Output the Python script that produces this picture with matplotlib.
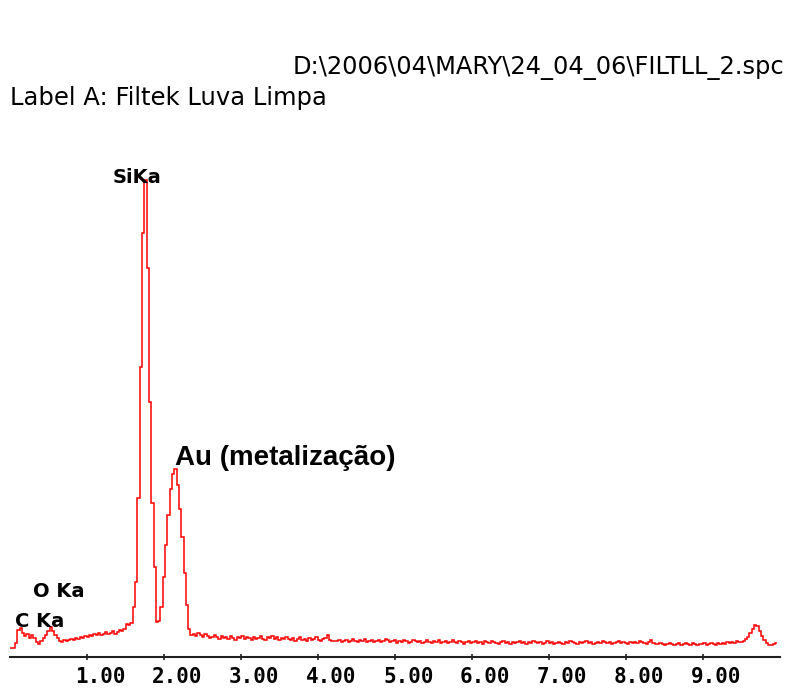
import numpy as np
import matplotlib
matplotlib.use('Agg')
import matplotlib.pyplot as plt
from matplotlib.transforms import ScaledTranslation

W, H = 786, 689
RED = '#ff0000'

# EDS spectrum, counts per 0.03 keV channel starting at 0 keV
CHANNEL_KEV = 0.03
counts = [
    # 0.00 - 0.60 keV (C Ka, O Ka)
    9, 9, 14, 27, 29, 24, 21, 23, 19, 22, 19, 15, 13, 16, 19, 22, 26, 30, 26, 22,
    # 0.60 - 1.20
    19, 16, 15, 17, 16, 17, 18, 17, 19, 18, 20, 19, 21, 20, 22, 21, 23, 22, 24, 22,
    # 1.20 - 1.80 (Si Ka)
    23, 25, 23, 24, 26, 23, 25, 27, 26, 28, 33, 32, 34, 50, 75, 159, 290, 424, 477, 389,
    # 1.80 - 2.37 (Au M)
    255, 154, 90, 35, 36, 50, 80, 112, 142, 168, 183, 188, 172, 148, 120, 84, 52, 28, 22,
    # 2.37 - 2.97
    23, 21, 24, 22, 20, 23, 21, 19, 20, 22, 20, 18, 21, 19, 20, 18, 21, 19, 17, 20,
    # 2.97 - 3.57
    19, 21, 18, 20, 19, 17, 20, 18, 19, 21, 18, 17, 20, 19, 21, 18, 20, 17, 19, 18,
    # 3.57 - 4.17
    20, 18, 17, 19, 16, 18, 20, 17, 18, 16, 19, 17, 18, 20, 17, 16, 18, 19, 22, 17,
    # 4.17 - 4.77
    16, 16, 16, 17, 15, 16, 17, 15, 16, 18, 16, 15, 17, 16, 18, 15, 16, 17, 15, 16,
    # 4.77 - 5.37
    17, 15, 16, 18, 17, 15, 16, 17, 14, 16, 15, 17, 16, 14, 15, 17, 16, 15, 16, 14,
    # 5.37 - 5.97
    15, 17, 15, 14, 16, 15, 17, 14, 15, 16, 14, 15, 17, 15, 14, 16, 15, 13, 15, 16,
    # 5.97 - 6.57
    14, 15, 16, 14, 15, 13, 16, 15, 14, 16, 15, 14, 13, 15, 16, 14, 15, 13, 15, 14,
    # 6.57 - 7.17
    15, 16, 14, 15, 13, 15, 14, 16, 15, 14, 15, 13, 14, 16, 14, 15, 13, 14, 15, 14,
    # 7.17 - 7.77
    13, 15, 14, 16, 15, 14, 13, 15, 14, 15, 16, 14, 15, 13, 14, 15, 14, 16, 15, 14,
    # 7.77 - 8.37
    15, 13, 14, 15, 16, 14, 15, 14, 13, 15, 14, 15, 14, 16, 15, 14, 13, 15, 17, 14,
    # 8.37 - 8.97
    13, 13, 14, 13, 12, 13, 14, 13, 12, 13, 14, 12, 13, 14, 13, 12, 14, 13, 12, 13,
    # 8.97 - 9.48
    13, 14, 12, 13, 14, 13, 12, 14, 13, 14, 13, 15, 14, 15, 14, 16, 15,
    # 9.48 - 9.96 (Au L)
    15, 16, 18, 20, 24, 28, 32, 31, 26, 21, 17, 14, 12, 12, 13, 14,
]

tick_kev = [1, 2, 3, 4, 5, 6, 7, 8, 9]
tick_labels = ['1.00', '2.00', '3.00', '4.00', '5.00', '6.00', '7.00', '8.00', '9.00']

# peak labels: (text, energy keV, counts at baseline)
peak_labels = [('SiKa', 1.33, 474), ('O Ka', 0.295, 60), ('C Ka', 0.06, 30)]

title_path = 'D:\\2006\\04\\MARY\\24_04_06\\FILTLL_2.spc'
title_label = 'Label A: Filtek Luva Limpa'
au_note = 'Au (metalização)'


def px(x, y):
    return x / W, 1 - y / H


fig = plt.figure(figsize=(W / 100, H / 100), dpi=100)
fig.patch.set_facecolor('white')
left, bottom = px(10.3, 657)
ax = fig.add_axes([left, bottom, 770 / W, 500 / H])

edges = np.arange(len(counts) + 1) * CHANNEL_KEV
ax.stairs(counts, edges, baseline=None, color=RED, lw=1.1)

ax.set_xlim(0, 10)
ax.set_ylim(0, 500)
for s in ['left', 'right', 'top']:
    ax.spines[s].set_visible(False)
ax.spines['bottom'].set_color('#202020')
ax.spines['bottom'].set_linewidth(1.5)
ax.set_yticks([])
ax.set_xticks(tick_kev)
ax.set_xticklabels(tick_labels, family='DejaVu Sans Mono', fontweight='bold', fontsize=15)
ax.tick_params(axis='x', direction='inout', length=5, width=1.2, color='#202020', pad=5)
off = ScaledTranslation(13 / 100, 0, fig.dpi_scale_trans)
for lab in ax.get_xticklabels():
    lab.set_transform(lab.get_transform() + off)

for txt, e, c in peak_labels:
    ax.text(e, c, txt, fontsize=14, fontweight='bold', color='black',
            ha='left', va='baseline')

ax.text(2.14, 192, au_note, fontsize=20, fontweight='bold', family='Liberation Sans',
        ha='left', va='baseline')

# file path sits flush against the right edge
x, y = px(784, 74)
fig.text(x, y, title_path, fontsize=17.4, ha='right', va='baseline')
x, y = px(10, 105)
fig.text(x, y, title_label, fontsize=17.5, ha='left', va='baseline')

fig.savefig('out.png', dpi=100, facecolor='white')
